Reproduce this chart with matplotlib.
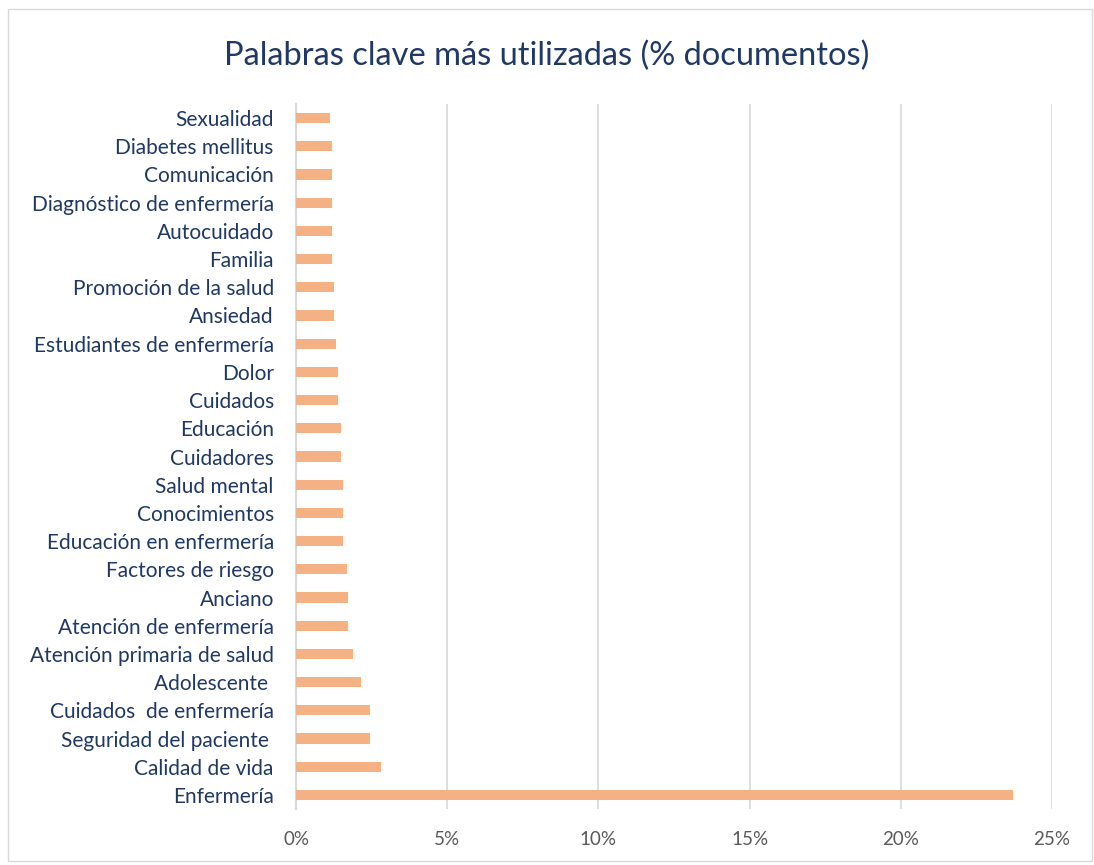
import numpy as np
import matplotlib.pyplot as plt
from matplotlib.patches import Rectangle
from matplotlib.ticker import FuncFormatter

# Datos (de abajo hacia arriba)
palabras = ["Enfermería", "Calidad de vida", "Seguridad del paciente ", "Cuidados  de enfermería",
            "Adolescente ", "Atención primaria de salud", "Atención de enfermería", "Anciano",
            "Factores de riesgo", "Educación en enfermería", "Conocimientos", "Salud mental",
            "Cuidadores", "Educación", "Cuidados", "Dolor", "Estudiantes de enfermería",
            "Ansiedad", "Promoción de la salud", "Familia", "Autocuidado",
            "Diagnóstico de enfermería", "Comunicación", "Diabetes mellitus", "Sexualidad"]
porcentaje = [23.7, 2.8, 2.45, 2.45, 2.15, 1.9, 1.72, 1.72, 1.68, 1.55, 1.55, 1.55,
              1.49, 1.49, 1.38, 1.38, 1.32, 1.26, 1.26, 1.19, 1.19, 1.19, 1.19, 1.19, 1.13]
ticks_x = [0, 5, 10, 15, 20, 25]

plt.rcParams['font.family'] = ['Lato', 'DejaVu Sans']

fig = plt.figure(figsize=(10.94, 8.65), dpi=100)
ax = fig.add_axes([0.2706, 0.0647, 0.691, 0.8151])

y = np.arange(len(palabras))
ax.barh(y, porcentaje, height=0.36, color="#F4B183", zorder=3)

ax.set_ylim(-0.5, len(palabras) - 0.5)
ax.set_xlim(0, 25)
ax.set_yticks(y)
ax.set_yticklabels(palabras, fontsize=15, color="#1F3864")
ax.set_xticks(ticks_x)
ax.xaxis.set_major_formatter(FuncFormatter(lambda v, p: f"{v:.0f}%"))
ax.tick_params(axis='x', labelsize=13.5, labelcolor="#595959", length=0, pad=16)
ax.tick_params(axis='y', length=0, pad=16)

ax.grid(axis='x', color="#D9D9D9", linewidth=1.2, zorder=0)
for s in ['top', 'right', 'bottom']:
    ax.spines[s].set_visible(False)
ax.spines['left'].set_color("#D9D9D9")
ax.spines['left'].set_linewidth(1.5)

fig.text(0.5, 0.935, "Palabras clave más utilizadas (% documentos)", ha='center', va='center',
         fontsize=23.5, color="#1F3864")

fig.patches.append(Rectangle((0.007, 0.005), 0.991, 0.985, transform=fig.transFigure,
                             fill=False, edgecolor="#D9D9D9", linewidth=1))

fig.savefig("out.png", dpi=100)
